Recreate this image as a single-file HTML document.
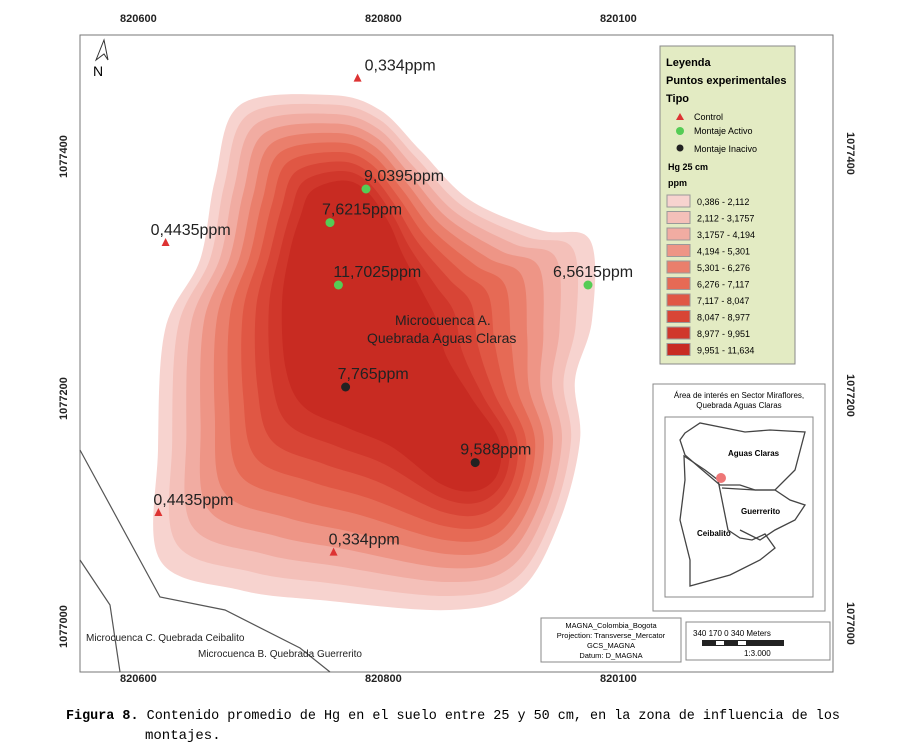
<!DOCTYPE html>
<html><head><meta charset="utf-8">
<style>
body{margin:0;background:#fff;width:905px;height:754px;overflow:hidden;font-family:"Liberation Sans",sans-serif}
svg{position:absolute;left:0;top:0}
</style></head>
<body>
<svg width="905" height="754" id="map">
<rect x="80" y="35" width="753" height="637" fill="#fff" stroke="#777" stroke-width="1"/>
<g id="contours"></g>
<g fill="none" stroke="#555" stroke-width="1.2">
<polyline points="80,450 160,597 225,610 300,648 330,672"/>
<polyline points="80,560 110,605 120,672"/>
</g>
<g id="pts"></g>
<g><polygon points="96,60 104,40 108,60 104,54" fill="#fff" stroke="#333"/><text x="93" y="76" font-size="14">N</text></g>
<text x="395" y="325" font-size="14" fill="#222">Microcuenca A.</text>
<text x="367" y="343" font-size="14" fill="#222">Quebrada Aguas Claras</text>
<text x="86" y="641" font-size="10" fill="#222">Microcuenca C. Quebrada Ceibalito</text>
<text x="198" y="657" font-size="10" fill="#222">Microcuenca B. Quebrada Guerrerito</text>
<g font-size="11" font-weight="bold" fill="#222">
<text x="120" y="22">820600</text><text x="365" y="22">820800</text><text x="600" y="22">820100</text>
<text x="120" y="682">820600</text><text x="365" y="682">820800</text><text x="600" y="682">820100</text>
<text transform="translate(67,178) rotate(-90)">1077400</text>
<text transform="translate(67,420) rotate(-90)">1077200</text>
<text transform="translate(67,648) rotate(-90)">1077000</text>
<text transform="translate(847,132) rotate(90)">1077400</text>
<text transform="translate(847,374) rotate(90)">1077200</text>
<text transform="translate(847,602) rotate(90)">1077000</text>
</g>
<g>
<rect x="660" y="46" width="135" height="318" fill="#e3ebc3" stroke="#888"/>
<text x="666" y="66" font-size="11" font-weight="bold">Leyenda</text>
<text x="666" y="84" font-size="11" font-weight="bold">Puntos experimentales</text>
<text x="666" y="102" font-size="11" font-weight="bold">Tipo</text>
<polygon points="676,120 680,113 684,120" fill="#d33"/><text x="694" y="120" font-size="9">Control</text>
<circle cx="680" cy="131" r="4" fill="#5c5"/><text x="694" y="134" font-size="9">Montaje Activo</text>
<circle cx="680" cy="148" r="3.5" fill="#222"/><text x="694" y="152" font-size="9">Montaje Inacivo</text>
<text x="668" y="170" font-size="9" font-weight="bold">Hg 25 cm</text>
<text x="668" y="186" font-size="9" font-weight="bold">ppm</text>
<g id="legsw"></g>
</g>
<g>
<rect x="653" y="384" width="172" height="227" fill="#fff" stroke="#888"/>
<text x="739" y="398" font-size="8" text-anchor="middle">Área de interés en Sector Miraflores,</text>
<text x="739" y="408" font-size="8" text-anchor="middle">Quebrada Aguas Claras</text>
<rect x="665" y="417" width="148" height="180" fill="#fff" stroke="#888"/>
<g fill="none" stroke="#444" stroke-width="1.3">
<path d="M685,433 L700,423 L745,432 L770,430 L805,432 L795,470 L775,490 L755,490 L740,485 L720,485 L700,468 L685,455 L680,440 Z"/>
<path d="M684,456 L705,470 L718,480 L722,500 L728,530 L740,538 L752,540 L765,534 L775,548 L760,560 L730,575 L690,586 L690,560 L680,520 L685,480 Z"/>
<path d="M722,488 L755,490 L775,490 L790,500 L805,505 L795,520 L775,530 L760,540 L740,530"/>
</g>
<circle cx="721" cy="478" r="5" fill="#e77"/>
<text x="728" y="456" font-size="8" font-weight="bold">Aguas Claras</text>
<text x="741" y="514" font-size="8" font-weight="bold">Guerrerito</text>
<text x="697" y="536" font-size="8" font-weight="bold">Ceibalito</text>
</g>
<g>
<rect x="541" y="618" width="140" height="44" fill="#fff" stroke="#888"/>
<g font-size="7.5" text-anchor="middle"><text x="611" y="628">MAGNA_Colombia_Bogota</text><text x="611" y="638">Projection: Transverse_Mercator</text><text x="611" y="648">GCS_MAGNA</text><text x="611" y="658">Datum: D_MAGNA</text></g>
</g>
<g>
<rect x="686" y="622" width="144" height="38" fill="#fff" stroke="#888"/>
<text x="693" y="636" font-size="8">340  170    0              340 Meters</text>
<rect x="702" y="640" width="82" height="6" fill="#222"/>
<rect x="716" y="641" width="8" height="4" fill="#fff"/><rect x="738" y="641" width="8" height="4" fill="#fff"/>
<text x="744" y="656" font-size="8">1:3.000</text>
</g>
<text x="66" y="719" font-size="14" font-family="Liberation Mono,monospace" textLength="774" lengthAdjust="spacingAndGlyphs"><tspan font-weight="bold">Figura 8.</tspan> Contenido promedio de Hg en el suelo entre 25 y 50 cm, en la zona de influencia de los</text>
<text x="145" y="739" font-size="14" font-family="Liberation Mono,monospace">montajes.</text>
</svg>
<script>
const ranges=["0,386 - 2,112","2,112 - 3,1757","3,1757 - 4,194","4,194 - 5,301","5,301 - 6,276","6,276 - 7,117","7,117 - 8,047","8,047 - 8,977","8,977 - 9,951","9,951 - 11,634"];
const colors=["#f7d3cf","#f4c0b9","#f1aca2","#ee9586","#ea7f6c","#e66a55","#e05744","#d84536","#d0372b","#c82b22"];
const outer=[[240,105],[330,95],[380,110],[420,150],[470,200],[540,230],[590,240],[592,320],[575,380],[580,440],[560,520],[520,590],[450,610],[320,600],[240,590],[160,560],[158,450],[165,330],[200,260],[215,180]];
const inner=[[320,200],[345,190],[365,200],[385,230],[395,260],[410,300],[420,330],[430,360],[460,400],[490,440],[490,470],[470,480],[440,470],[400,430],[360,410],[320,390],[300,360],[295,300],[300,250],[310,220]];
const ptLabels=["0,334ppm","9,0395ppm","7,6215ppm","0,4435ppm","11,7025ppm","6,5615ppm","7,765ppm","9,588ppm","0,4435ppm","0,334ppm"];
const ptTypes=["control","activo","activo","control","activo","activo","inactivo","inactivo","control","control"];
const ptX=[820763,820770,820740,820603,820747,820955,820753,820861,820597,820743];
const ptY=[1077462,1077370,1077342,1077325,1077290,1077290,1077205,1077142,1077100,1077067];
const labelDx=[7,-2,-8,-15,-5,-35,-8,-15,-5,-5];
const NS="http://www.w3.org/2000/svg";
function sx(e){return 162+(e-820600)*1.2;}
function sy(n){return 153+(1077400-n)*1.2;}
function smooth(pts){const n=pts.length;let d=`M${pts[0][0]},${pts[0][1]}`;
for(let i=0;i<n;i++){const p0=pts[(i-1+n)%n],p1=pts[i],p2=pts[(i+1)%n],p3=pts[(i+2)%n];
const c1=[p1[0]+(p2[0]-p0[0])/6,p1[1]+(p2[1]-p0[1])/6],c2=[p2[0]-(p3[0]-p1[0])/6,p2[1]-(p3[1]-p1[1])/6];
d+=` C${c1[0].toFixed(1)},${c1[1].toFixed(1)} ${c2[0].toFixed(1)},${c2[1].toFixed(1)} ${p2[0].toFixed(1)},${p2[1].toFixed(1)}`;}
return d+'Z';}
const cg=document.getElementById('contours');
colors.forEach((c,i)=>{const t=i/10;const p=document.createElementNS(NS,'path');
p.setAttribute('d',smooth(outer.map((o,k)=>[o[0]+(inner[k][0]-o[0])*t,o[1]+(inner[k][1]-o[1])*t])));
p.setAttribute('fill',c);p.setAttribute('stroke','none');


cg.appendChild(p);});
const pg=document.getElementById('pts');
ptLabels.forEach((l,i)=>{const x=sx(ptX[i]),y=sy(ptY[i]);let m;
if(ptTypes[i]=='control'){m=document.createElementNS(NS,'polygon');m.setAttribute('points',`${x-4},${y+3} ${x},${y-5} ${x+4},${y+3}`);m.setAttribute('fill','#d33');}
else{m=document.createElementNS(NS,'circle');m.setAttribute('cx',x);m.setAttribute('cy',y);m.setAttribute('r',4.5);m.setAttribute('fill',ptTypes[i]=='activo'?'#5c5':'#222');}


pg.appendChild(m);
const t=document.createElementNS(NS,'text');t.setAttribute('x',x+labelDx[i]);t.setAttribute('y',y-8);t.setAttribute('font-size','16');t.setAttribute('fill','#222');t.textContent=l;


pg.appendChild(t);});
const lg=document.getElementById('legsw');
ranges.forEach((r,i)=>{const y=195+i*16.5;const rc=document.createElementNS(NS,'rect');rc.setAttribute('x',667);rc.setAttribute('y',y);rc.setAttribute('width',23);rc.setAttribute('height',12);rc.setAttribute('fill',colors[i]);rc.setAttribute('stroke','#999');


lg.appendChild(rc);
const t=document.createElementNS(NS,'text');t.setAttribute('x',697);t.setAttribute('y',y+10);t.setAttribute('font-size','9');t.textContent=r;


lg.appendChild(t);});
</script>
</body></html>
